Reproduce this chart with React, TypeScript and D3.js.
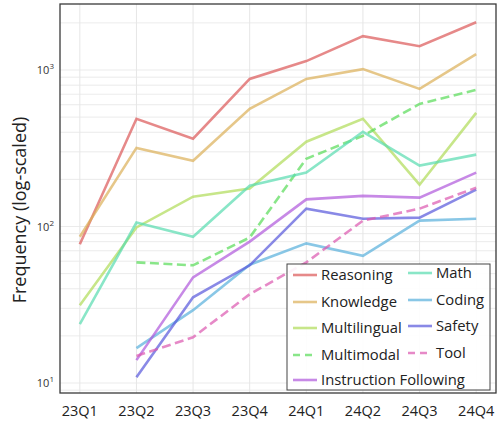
import { useEffect } from 'react'
import * as d3 from 'd3'

const quarters = ['23Q1', '23Q2', '23Q3', '23Q4', '24Q1', '24Q2', '24Q3', '24Q4']

const reasoning = [77, 488, 364, 877, 1140, 1645, 1420, 2020]
const knowledge = [86, 318, 263, 565, 877, 1013, 757, 1264]
const multilingual = [31.4, 98.6, 155, 175, 348, 488, 185, 532]
const multimodal = [null, 59, 56.5, 85, 271, 380, 607, 746]
const instruction = [null, 14, 47.3, 80, 149, 157, 153, 221]
const math = [23.8, 106, 86, 182, 221, 403, 245, 288]
const coding = [null, 16.7, 29.2, 57, 78, 65, 109, 112]
const safety = [null, 10.9, 35.3, 56.5, 130, 112, 114, 172]
const tool = [null, 14.9, 19.6, 36.9, 59, 109, 130, 177]

type Series = { name: string; values: (number | null)[]; color: string; dashed?: boolean }

const series: Series[] = [
  { name: 'Reasoning', values: reasoning, color: '#db5757' },
  { name: 'Knowledge', values: knowledge, color: '#dbaf57' },
  { name: 'Multilingual', values: multilingual, color: '#afdb57' },
  { name: 'Multimodal', values: multimodal, color: '#57db57', dashed: true },
  { name: 'Instruction Following', values: instruction, color: '#af57db' },
  { name: 'Math', values: math, color: '#57dbaf' },
  { name: 'Coding', values: coding, color: '#57afdb' },
  { name: 'Safety', values: safety, color: '#5757db' },
  { name: 'Tool', values: tool, color: '#db57af', dashed: true },
]

// draw order in the plot (legend order differs)
const drawOrder = ['Reasoning', 'Knowledge', 'Multilingual', 'Multimodal', 'Math', 'Coding', 'Safety', 'Instruction Following', 'Tool']

const legendLeft = ['Reasoning', 'Knowledge', 'Multilingual', 'Multimodal', 'Instruction Following']
const legendRight = ['Math', 'Coding', 'Safety', 'Tool']

const W = 499
const H = 423
const left = 60
const right = 496
const top = 4
const bottom = 393
const font = "'Open Sans', 'DejaVu Sans', sans-serif"

export default function App() {
  useEffect(() => {
    document.body.style.margin = '0'
  }, [])

  const x = d3.scaleLinear().domain([-0.35, 7.35]).range([left, right])

  // 10 -> 383px, 1000 -> 70px
  const decade = (383 - 70) / 2
  const lo = Math.pow(10, 1 - (bottom - 383) / decade)
  const hi = Math.pow(10, 3 + (70 - top) / decade)
  const y = d3.scaleLog().domain([lo, hi]).range([bottom, top])

  const minorTicks: number[] = []
  for (let e = 0; e <= 3; e++) {
    for (let m = 1; m <= 9; m++) {
      const v = m * Math.pow(10, e)
      if (v >= lo && v <= hi) minorTicks.push(v)
    }
  }
  const majorTicks = [10, 100, 1000]

  const line = d3
    .line<number | null>()
    .defined((d) => d !== null)
    .x((_, i) => x(i))
    .y((d) => y(d as number))

  const byName = (n: string) => series.find((s) => s.name === n)!

  const rowY = [275, 302, 328, 355, 380]

  return (
    <svg width={W} height={H} style={{ display: 'block', fontFamily: font }}>
      <rect x={0} y={0} width={W} height={H} fill="white" />
      {/* grid */}
      {minorTicks.map((v) => (
        <line key={'g' + v} x1={left} x2={right} y1={y(v)} y2={y(v)} stroke="#e6e6e6" strokeWidth={0.8} />
      ))}
      {quarters.map((q, i) => (
        <line key={'v' + q} x1={x(i)} x2={x(i)} y1={top} y2={bottom} stroke="#e6e6e6" strokeWidth={1} />
      ))}
      {/* series */}
      <g clipPath="url(#clip)">
        {drawOrder.map((n) => {
          const s = byName(n)
          return (
            <path
              key={n}
              d={line(s.values) || ''}
              fill="none"
              stroke={s.color}
              strokeOpacity={0.7}
              strokeWidth={2.6}
              strokeDasharray={s.dashed ? '9,4.5' : undefined}
            />
          )
        })}
      </g>
      <defs>
        <clipPath id="clip">
          <rect x={left} y={top} width={right - left} height={bottom - top} />
        </clipPath>
      </defs>
      {/* frame */}
      <rect x={left} y={top} width={right - left} height={bottom - top} fill="none" stroke="#3a3a3a" strokeWidth={1.3} />
      {/* y ticks */}
      {majorTicks.map((v, i) => (
        <text key={'yt' + v} x={left - 6} y={y(v) + 4} textAnchor="end" fontSize={11} fill="#333">
          10
          <tspan dy={-5} fontSize={8}>
            {i + 1}
          </tspan>
        </text>
      ))}
      {/* x ticks */}
      {quarters.map((q, i) => (
        <text key={'xt' + q} x={x(i)} y={416} textAnchor="middle" fontSize={14.5} fill="#222">
          {q}
        </text>
      ))}
      <text transform="translate(26,210) rotate(-90)" textAnchor="middle" fontSize={18} fill="#222">
        Frequency (log-scaled)
      </text>
      {/* legend */}
      <rect x={287} y={264} width={203} height={126} fill="white" fillOpacity={0.9} stroke="#444" strokeWidth={1} />
      {legendLeft.map((n, i) => {
        const s = byName(n)
        return (
          <g key={'l' + n}>
            <line x1={293} x2={317} y1={rowY[i]} y2={rowY[i]} stroke={s.color} strokeOpacity={0.7} strokeWidth={2.6} strokeDasharray={s.dashed ? '7,5' : undefined} />
            <text x={321} y={rowY[i] + 5} fontSize={14.8} fill="#222">
              {n}
            </text>
          </g>
        )
      })}
      {legendRight.map((n, i) => {
        const s = byName(n)
        return (
          <g key={'r' + n}>
            <line x1={408} x2={432} y1={rowY[i] - 2} y2={rowY[i] - 2} stroke={s.color} strokeOpacity={0.7} strokeWidth={2.6} strokeDasharray={s.dashed ? '7,5' : undefined} />
            <text x={436} y={rowY[i] + 3} fontSize={14.8} fill="#222">
              {n}
            </text>
          </g>
        )
      })}
    </svg>
  )
}
